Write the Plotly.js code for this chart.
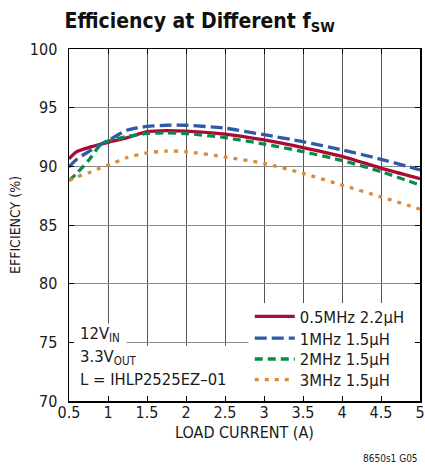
<!DOCTYPE html>
<html>
<head>
<meta charset="utf-8">
<script src="https://cdn.plot.ly/plotly-3.0.1.min.js"></script>
<style>html,body{margin:0;padding:0;background:#fff;}#chart{width:425px;height:467px;}</style>
</head>
<body>
<div id="chart"></div>
<script>
// Data
const loadCurrent = [0.5, 0.6, 0.75, 0.9, 1, 1.25, 1.5, 1.75, 2, 2.5, 3, 3.5, 4, 4.5, 5];
const eff05MHz = [90.65, 91.25, 91.6, 91.87, 92.05, 92.45, 92.95, 93.05, 93.0, 92.75, 92.25, 91.6, 90.85, 89.85, 88.95];
const eff1MHz  = [89.95, 90.6, 91.25, 91.85, 92.2, 93.1, 93.4, 93.5, 93.5, 93.25, 92.7, 92.1, 91.4, 90.6, 89.7];
const eff2MHz  = [88.8, 89.4, 90.5, 91.8, 92.15, 92.55, 92.8, 92.85, 92.8, 92.45, 91.9, 91.25, 90.5, 89.55, 88.4];
const eff3MHz  = [88.8, 89.1, 89.45, 89.85, 90.1, 90.75, 91.15, 91.3, 91.25, 90.8, 90.25, 89.4, 88.4, 87.4, 86.35];
const seriesNames = ["0.5MHz 2.2µH", "1MHz 1.5µH", "2MHz 1.5µH", "3MHz 1.5µH"];
const xTicks = [0.5, 1, 1.5, 2, 2.5, 3, 3.5, 4, 4.5, 5];
const yTicks = [70, 75, 80, 85, 90, 95, 100];

const FONT = "'Liberation Sans Narrow', 'DejaVu Sans Condensed', 'Arial Narrow', sans-serif";
const styles = [
  {color: "#ac0a36", dash: "solid"},
  {color: "#2f5aa8", dash: "12px,5px"},
  {color: "#0a8a4a", dash: "8px,5px"},
  {color: "#da8a3c", dash: "4px,6px"}
];
const legendIds = ["legend", "legend2", "legend3", "legend4"];
const legendY = [0.2395, 0.178, 0.1185, 0.0597];
const ys = [eff05MHz, eff1MHz, eff2MHz, eff3MHz];
const traces = ys.map((y, i) => ({
  x: loadCurrent, y: y, name: seriesNames[i], type: "scatter", mode: "lines",
  legend: legendIds[i],
  line: {color: styles[i].color, width: 3.3, dash: styles[i].dash, shape: "spline", smoothing: 0.6}
}));

const layout = {
  width: 425, height: 467,
  margin: {l: 69, r: 5, t: 49, b: 66},
  paper_bgcolor: "#fff", plot_bgcolor: "#fff",
  font: {family: FONT, size: 16, color: "#1a1a1a"},
  title: {
    text: "<b>Efficiency at Different f<sub>SW</sub></b>",
    font: {family: FONT, size: 21, color: "#111"},
    x: 0.152, xanchor: "left", xref: "container",
    y: 0.972, yanchor: "top", yref: "container"
  },
  showlegend: true,
  xaxis: {
    range: [0.5, 5], tickvals: xTicks, ticktext: xTicks.map(String),
    showgrid: true, gridcolor: "#555", gridwidth: 1,
    showline: true, linecolor: "#000", linewidth: 1.5, mirror: "ticks",
    ticks: "inside", ticklen: 5, tickcolor: "#000", tickwidth: 1,
    zeroline: false, tickfont: {family: FONT, size: 16}, ticklabelstandoff: -4,
    ticklabeloverflow: "allow",
    title: {text: "LOAD CURRENT (A)", font: {family: FONT, size: 16}, standoff: 6}
  },
  yaxis: {
    range: [70, 100], tickvals: yTicks, ticktext: yTicks.map(String),
    showgrid: true, gridcolor: "#888", gridwidth: 1,
    showline: true, linecolor: "#000", linewidth: 1.5, mirror: "ticks",
    ticks: "inside", ticklen: 5, tickcolor: "#000", tickwidth: 1,
    zeroline: false, tickfont: {family: FONT, size: 16}, ticklabelstandoff: 7,
    title: {text: "EFFICIENCY (%)", font: {family: FONT, size: 14}, standoff: 6}
  },
  shapes: [
    {type: "rect", layer: "between", xref: "x", yref: "y", x0: 0.53, x1: 1.24, y0: 70, y1: 76.6, fillcolor: "#fff", line: {width: 0}},
    {type: "rect", layer: "between", xref: "x", yref: "y", x0: 0.53, x1: 2.75, y0: 70, y1: 74.7, fillcolor: "#fff", line: {width: 0}},
    {type: "rect", layer: "between", xref: "x", yref: "y", x0: 2.8, x1: 4.96, y0: 70, y1: 78.35, fillcolor: "#fff", line: {width: 0}}
  ],
  annotations: [
    {text: "12V<sub>IN</sub>", xref: "paper", yref: "paper", x: 0.026, y: 0.19, xanchor: "left", yanchor: "middle", showarrow: false, font: {family: FONT, size: 16.5}},
    {text: "3.3V<sub>OUT</sub>", xref: "paper", yref: "paper", x: 0.026, y: 0.125, xanchor: "left", yanchor: "middle", showarrow: false, font: {family: FONT, size: 16.5}},
    {text: "L = IHLP2525EZ–01", xref: "paper", yref: "paper", x: 0.026, y: 0.06, xanchor: "left", yanchor: "middle", showarrow: false, font: {family: FONT, size: 16.5}},
    {text: "8650s1 G05", xref: "paper", yref: "paper", x: 1.0, y: -0.163, xanchor: "right", yanchor: "middle", showarrow: false, font: {family: FONT, size: 10}}
  ]
};
legendIds.forEach((id, i) => {
  layout[id] = {
    x: 0.515, xanchor: "left", y: legendY[i], yanchor: "middle",
    bgcolor: "rgba(0,0,0,0)", borderwidth: 0,
    font: {family: FONT, size: 16.5, color: "#1a1a1a"},
    itemwidth: 40
  };
});

Plotly.newPlot("chart", traces, layout, {staticPlot: true, displayModeBar: false});
</script>
</body>
</html>
